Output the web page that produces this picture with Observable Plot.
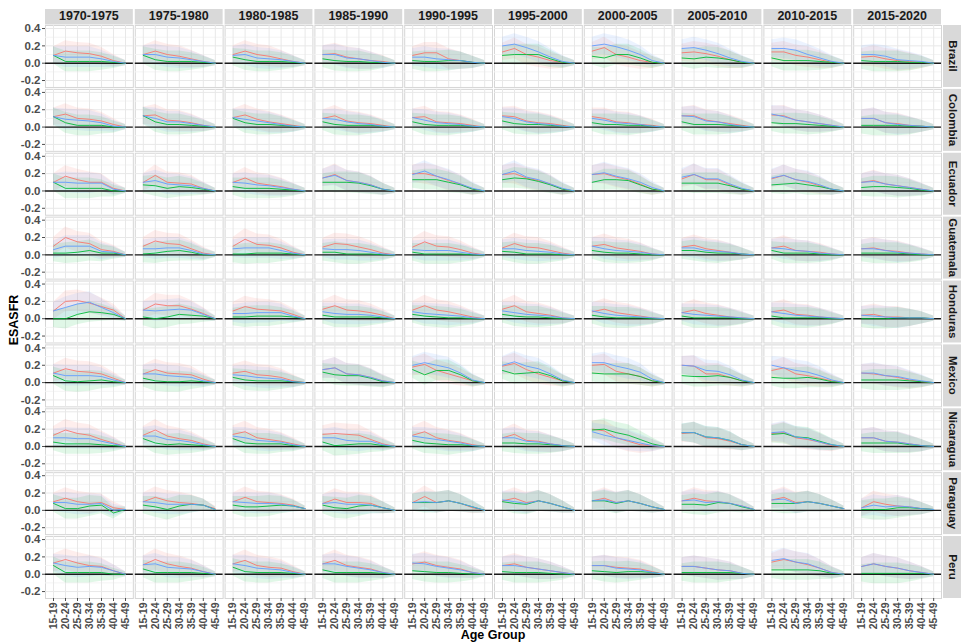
<!DOCTYPE html>
<html><head><meta charset="utf-8">
<script src="https://cdn.jsdelivr.net/npm/d3@7"></script>
<script src="https://cdn.jsdelivr.net/npm/@observablehq/plot@0.6"></script>
<style>body{margin:0;background:#fff} svg{display:block}</style>
</head><body><div id="chart"></div>
<script>
const ages = ["15-19","20-24","25-29","30-34","35-39","40-44","45-49"];
const periods = ["1970-1975","1975-1980","1980-1985","1985-1990","1990-1995","1995-2000","2000-2005","2005-2010","2010-2015","2015-2020"];
const countries = ["Brazil","Colombia","Ecuador","Guatemala","Honduras","Mexico","Nicaragua","Paraguay","Peru"];
const seriesNames = ["Series A","Series B","Series C"];
const bandHalfWidth = [0.10,0.12,0.12,0.12,0.10,0.07,0.03];

// Series A (red): [country][period][age]
const seriesA = [
 [[0.09,0.14,0.12,0.11,0.08,0.03,0.00],[0.10,0.14,0.10,0.08,0.05,0.02,0.00],[0.10,0.14,0.10,0.08,0.05,0.02,0.00],[0.10,0.11,0.07,0.05,0.03,0.02,0.00],[0.09,0.12,0.12,0.05,0.03,0.01,0.00],[0.13,0.17,0.10,0.07,0.03,0.01,0.00],[0.14,0.18,0.10,0.07,0.03,0.01,0.00],[0.12,0.13,0.11,0.08,0.04,0.01,0.00],[0.13,0.13,0.09,0.07,0.04,0.01,0.00],[0.07,0.08,0.05,0.03,0.02,0.01,0.00]],
 [[0.12,0.15,0.10,0.09,0.07,0.03,0.00],[0.13,0.14,0.08,0.07,0.05,0.02,0.00],[0.11,0.14,0.09,0.06,0.04,0.02,0.00],[0.10,0.13,0.07,0.05,0.04,0.02,0.00],[0.11,0.12,0.06,0.05,0.04,0.02,0.00],[0.13,0.12,0.07,0.05,0.04,0.02,0.00],[0.12,0.10,0.06,0.05,0.03,0.02,0.00],[0.13,0.13,0.08,0.06,0.04,0.02,0.00],[0.14,0.13,0.08,0.06,0.04,0.02,0.00],[0.10,0.10,0.05,0.04,0.02,0.01,0.00]],
 [[0.10,0.17,0.13,0.10,0.10,0.03,0.00],[0.10,0.18,0.10,0.09,0.08,0.03,0.00],[0.10,0.15,0.09,0.07,0.05,0.02,0.00],[0.15,0.19,0.12,0.10,0.07,0.02,0.00],[0.20,0.20,0.17,0.12,0.08,0.02,0.00],[0.19,0.20,0.15,0.12,0.08,0.02,0.00],[0.19,0.20,0.16,0.13,0.08,0.02,0.00],[0.14,0.19,0.13,0.13,0.07,0.02,0.00],[0.14,0.18,0.13,0.10,0.06,0.02,0.00],[0.10,0.12,0.08,0.06,0.04,0.02,0.00]],
 [[0.10,0.20,0.15,0.13,0.06,0.04,0.00],[0.10,0.16,0.13,0.12,0.07,0.02,0.00],[0.10,0.18,0.12,0.11,0.08,0.03,0.00],[0.09,0.13,0.12,0.09,0.06,0.02,0.00],[0.09,0.15,0.10,0.09,0.06,0.02,0.00],[0.08,0.13,0.09,0.08,0.05,0.02,0.00],[0.10,0.12,0.08,0.06,0.04,0.01,0.00],[0.09,0.11,0.07,0.05,0.03,0.01,0.00],[0.08,0.10,0.05,0.04,0.03,0.01,0.00],[0.07,0.08,0.05,0.04,0.02,0.01,0.00]],
 [[0.09,0.20,0.21,0.18,0.14,0.10,0.00],[0.10,0.17,0.15,0.15,0.11,0.06,0.00],[0.09,0.14,0.11,0.10,0.09,0.05,0.00],[0.11,0.15,0.10,0.09,0.07,0.04,0.00],[0.10,0.15,0.10,0.08,0.05,0.02,0.00],[0.11,0.15,0.08,0.06,0.04,0.01,0.00],[0.08,0.11,0.07,0.05,0.03,0.01,0.00],[0.07,0.10,0.06,0.04,0.02,0.01,0.00],[0.08,0.10,0.05,0.04,0.02,0.01,0.00],[0.04,0.05,0.02,0.02,0.01,0.01,0.00]],
 [[0.11,0.16,0.13,0.12,0.10,0.05,0.00],[0.10,0.15,0.11,0.10,0.09,0.04,0.00],[0.11,0.13,0.09,0.08,0.06,0.02,0.00],[0.15,0.17,0.10,0.09,0.06,0.02,0.00],[0.18,0.21,0.14,0.10,0.06,0.02,0.00],[0.19,0.22,0.15,0.10,0.06,0.02,0.00],[0.20,0.21,0.13,0.10,0.07,0.02,0.00],[0.20,0.19,0.10,0.10,0.06,0.02,0.00],[0.14,0.17,0.10,0.08,0.05,0.02,0.00],[0.11,0.10,0.08,0.06,0.03,0.01,0.00]],
 [[0.13,0.19,0.15,0.13,0.08,0.04,0.00],[0.13,0.19,0.12,0.09,0.07,0.03,0.00],[0.14,0.17,0.10,0.08,0.06,0.03,0.00],[0.14,0.15,0.14,0.13,0.08,0.03,0.00],[0.13,0.17,0.10,0.07,0.05,0.02,0.00],[0.10,0.14,0.07,0.06,0.03,0.01,0.00],[0.20,0.18,0.10,0.06,0.02,0.01,0.00],[0.15,0.16,0.10,0.09,0.06,0.02,0.00],[0.15,0.16,0.10,0.08,0.05,0.01,0.00],[0.10,0.10,0.06,0.05,0.03,0.01,0.00]],
 [[0.10,0.14,0.10,0.08,0.09,0.03,0.01],[0.10,0.15,0.11,0.09,0.08,0.06,0.02],[0.10,0.15,0.10,0.09,0.08,0.06,0.02],[0.08,0.13,0.09,0.09,0.08,0.03,0.00],[0.09,0.16,0.09,0.11,0.08,0.03,0.00],[0.11,0.14,0.09,0.11,0.08,0.04,0.00],[0.11,0.14,0.09,0.11,0.08,0.04,0.01],[0.11,0.14,0.11,0.10,0.08,0.05,0.01],[0.12,0.15,0.09,0.10,0.08,0.05,0.02],[0.03,0.10,0.07,0.05,0.04,0.02,0.01]],
 [[0.13,0.17,0.13,0.10,0.09,0.04,0.00],[0.11,0.17,0.12,0.09,0.07,0.03,0.00],[0.12,0.16,0.10,0.08,0.07,0.03,0.00],[0.12,0.16,0.10,0.08,0.06,0.02,0.00],[0.12,0.14,0.10,0.08,0.06,0.02,0.00],[0.10,0.12,0.08,0.06,0.04,0.02,0.00],[0.10,0.10,0.08,0.07,0.06,0.03,0.00],[0.09,0.09,0.07,0.05,0.04,0.01,0.00],[0.14,0.17,0.14,0.11,0.07,0.02,0.00],[0.09,0.12,0.09,0.07,0.04,0.02,0.00]]
];

// Series B (green)
const seriesB = [
 [[0.09,0.02,0.02,0.02,0.02,0.01,0.00],[0.09,0.04,0.02,0.02,0.02,0.01,0.00],[0.07,0.04,0.02,0.02,0.02,0.01,0.00],[0.05,0.03,0.02,0.02,0.01,0.01,0.00],[0.03,0.02,0.02,0.03,0.03,0.01,0.00],[0.09,0.10,0.10,0.10,0.05,0.01,0.00],[0.08,0.06,0.10,0.10,0.06,0.01,0.00],[0.06,0.05,0.07,0.06,0.04,0.01,0.00],[0.06,0.03,0.03,0.03,0.02,0.01,0.00],[0.03,0.02,0.02,0.02,0.01,0.01,0.00]],
 [[0.12,0.05,0.02,0.02,0.02,0.00,0.00],[0.13,0.06,0.03,0.03,0.02,0.01,0.00],[0.10,0.05,0.03,0.03,0.02,0.01,0.00],[0.06,0.03,0.02,0.02,0.02,0.01,0.00],[0.06,0.03,0.02,0.02,0.02,0.01,0.00],[0.07,0.04,0.03,0.03,0.02,0.01,0.00],[0.05,0.03,0.03,0.02,0.02,0.01,0.00],[0.06,0.03,0.03,0.03,0.02,0.01,0.00],[0.05,0.04,0.04,0.03,0.02,0.01,0.00],[0.02,0.02,0.02,0.02,0.01,0.01,0.00]],
 [[0.10,0.03,0.03,0.03,0.03,0.00,0.00],[0.07,0.06,0.03,0.05,0.04,0.02,0.00],[0.05,0.03,0.03,0.03,0.02,0.01,0.00],[0.10,0.10,0.10,0.09,0.06,0.02,0.00],[0.13,0.13,0.13,0.10,0.07,0.02,0.00],[0.13,0.15,0.14,0.11,0.07,0.02,0.00],[0.10,0.13,0.13,0.12,0.07,0.02,0.00],[0.09,0.09,0.09,0.09,0.06,0.02,0.00],[0.07,0.08,0.09,0.07,0.05,0.02,0.00],[0.04,0.05,0.05,0.04,0.03,0.01,0.00]],
 [[0.02,0.02,0.03,0.05,0.02,0.02,0.00],[0.01,0.02,0.04,0.05,0.03,0.00,0.00],[0.01,0.01,0.02,0.02,0.02,0.01,0.00],[0.03,0.03,0.01,0.01,0.01,0.00,0.00],[0.03,0.01,0.01,0.01,0.01,0.00,0.00],[0.04,0.03,0.01,0.01,0.01,0.00,0.00],[0.05,0.03,0.02,0.02,0.01,0.00,0.00],[0.05,0.05,0.03,0.02,0.02,0.01,0.00],[0.05,0.02,0.02,0.02,0.01,0.00,0.00],[0.02,0.02,0.02,0.02,0.01,0.00,0.00]],
 [[0.00,0.00,0.05,0.08,0.07,0.05,0.00],[0.02,0.00,0.02,0.05,0.04,0.03,0.00],[0.02,0.02,0.03,0.03,0.03,0.02,0.00],[0.04,0.02,0.02,0.02,0.02,0.01,0.00],[0.05,0.03,0.02,0.01,0.01,0.00,0.00],[0.05,0.03,0.02,0.02,0.01,0.00,0.00],[0.04,0.02,0.01,0.01,0.01,0.00,0.00],[0.03,0.01,0.01,0.01,0.01,0.00,0.00],[0.03,0.01,0.01,0.01,0.01,0.00,0.00],[0.00,0.00,0.00,0.01,0.01,0.01,0.00]],
 [[0.08,0.02,0.01,0.02,0.03,0.01,0.00],[0.05,0.02,0.01,0.01,0.02,0.01,0.00],[0.06,0.03,0.02,0.02,0.02,0.01,0.00],[0.12,0.09,0.08,0.08,0.05,0.01,0.00],[0.15,0.09,0.14,0.14,0.09,0.02,0.00],[0.14,0.10,0.11,0.12,0.08,0.02,0.00],[0.11,0.10,0.10,0.10,0.07,0.02,0.00],[0.08,0.07,0.07,0.08,0.06,0.02,0.00],[0.06,0.05,0.05,0.06,0.04,0.01,0.00],[0.03,0.03,0.03,0.03,0.02,0.01,0.00]],
 [[0.05,0.03,0.03,0.03,0.02,0.01,0.00],[0.09,0.04,0.02,0.03,0.02,0.01,0.00],[0.09,0.04,0.03,0.03,0.03,0.01,0.00],[0.05,0.01,0.02,0.03,0.03,0.01,0.00],[0.07,0.04,0.03,0.02,0.02,0.01,0.00],[0.04,0.04,0.03,0.03,0.02,0.01,0.00],[0.19,0.20,0.16,0.13,0.08,0.03,0.00],[0.16,0.16,0.11,0.10,0.07,0.02,0.00],[0.14,0.15,0.11,0.10,0.06,0.02,0.00],[0.04,0.04,0.04,0.04,0.02,0.01,0.00]],
 [[0.08,0.02,0.02,0.05,0.06,-0.03,0.01],[0.06,0.04,0.01,0.05,0.07,0.06,0.01],[0.06,0.04,0.04,0.05,0.06,0.05,0.02],[0.06,0.03,0.02,0.05,0.06,0.03,0.00],[0.09,0.09,0.09,0.11,0.08,0.04,0.00],[0.10,0.08,0.07,0.11,0.08,0.04,0.00],[0.11,0.11,0.08,0.11,0.08,0.04,0.01],[0.07,0.07,0.06,0.09,0.08,0.04,0.01],[0.08,0.08,0.08,0.10,0.08,0.05,0.02],[0.01,0.01,0.01,0.03,0.03,0.02,0.01]],
 [[0.10,0.02,0.02,0.02,0.02,0.00,0.00],[0.06,0.02,0.02,0.02,0.02,0.01,0.00],[0.08,0.03,0.02,0.02,0.02,0.01,0.00],[0.05,0.02,0.02,0.02,0.02,0.01,0.00],[0.04,0.03,0.02,0.02,0.01,0.00,0.00],[0.03,0.02,0.02,0.02,0.01,0.00,0.00],[0.04,0.03,0.02,0.03,0.03,0.02,0.00],[0.02,0.02,0.02,0.02,0.02,0.01,0.00],[0.05,0.05,0.05,0.05,0.04,0.01,0.00],[0.01,0.01,0.01,0.01,0.01,0.01,0.00]]
];

// Series C (blue)
const seriesC = [
 [[0.09,0.07,0.07,0.07,0.05,0.02,0.00],[0.10,0.10,0.07,0.06,0.04,0.02,0.00],[0.09,0.10,0.06,0.05,0.04,0.02,0.00],[0.10,0.10,0.06,0.05,0.03,0.01,0.00],[0.07,0.07,0.05,0.04,0.03,0.01,0.00],[0.20,0.22,0.18,0.13,0.07,0.02,0.00],[0.20,0.22,0.19,0.15,0.10,0.03,0.00],[0.17,0.18,0.15,0.11,0.06,0.02,0.00],[0.17,0.17,0.15,0.10,0.06,0.02,0.00],[0.10,0.10,0.08,0.04,0.03,0.02,0.00]],
 [[0.12,0.09,0.08,0.07,0.05,0.01,0.00],[0.13,0.10,0.06,0.06,0.04,0.02,0.00],[0.11,0.09,0.07,0.05,0.03,0.01,0.00],[0.10,0.09,0.06,0.04,0.03,0.01,0.00],[0.11,0.08,0.05,0.04,0.03,0.01,0.00],[0.12,0.10,0.06,0.04,0.03,0.01,0.00],[0.10,0.08,0.05,0.04,0.03,0.01,0.00],[0.13,0.12,0.07,0.06,0.03,0.01,0.00],[0.15,0.12,0.08,0.06,0.04,0.02,0.00],[0.10,0.10,0.05,0.03,0.02,0.01,0.00]],
 [[0.10,0.10,0.09,0.09,0.09,0.02,0.00],[0.10,0.12,0.08,0.07,0.06,0.03,0.00],[0.10,0.09,0.07,0.06,0.04,0.02,0.00],[0.15,0.18,0.12,0.10,0.07,0.02,0.00],[0.19,0.23,0.17,0.13,0.08,0.03,0.00],[0.19,0.23,0.16,0.13,0.08,0.03,0.00],[0.19,0.21,0.17,0.14,0.10,0.04,0.00],[0.16,0.19,0.14,0.14,0.08,0.03,0.00],[0.15,0.18,0.13,0.11,0.07,0.02,0.00],[0.10,0.11,0.08,0.06,0.04,0.02,0.00]],
 [[0.06,0.10,0.10,0.10,0.04,0.03,0.00],[0.07,0.07,0.08,0.08,0.05,0.01,0.00],[0.07,0.08,0.08,0.08,0.05,0.02,0.00],[0.07,0.06,0.06,0.05,0.03,0.01,0.00],[0.06,0.05,0.05,0.05,0.03,0.01,0.00],[0.07,0.07,0.05,0.04,0.03,0.01,0.00],[0.10,0.07,0.05,0.04,0.03,0.01,0.00],[0.08,0.08,0.05,0.04,0.03,0.01,0.00],[0.08,0.07,0.05,0.04,0.02,0.01,0.00],[0.07,0.07,0.05,0.03,0.02,0.01,0.00]],
 [[0.09,0.13,0.17,0.19,0.13,0.07,0.00],[0.10,0.09,0.10,0.11,0.10,0.05,0.00],[0.06,0.06,0.07,0.07,0.07,0.03,0.00],[0.08,0.06,0.05,0.05,0.04,0.02,0.00],[0.08,0.06,0.05,0.04,0.03,0.01,0.00],[0.09,0.07,0.05,0.04,0.03,0.01,0.00],[0.09,0.06,0.04,0.03,0.02,0.01,0.00],[0.07,0.05,0.04,0.03,0.02,0.01,0.00],[0.08,0.06,0.04,0.03,0.02,0.01,0.00],[0.04,0.03,0.02,0.01,0.01,0.01,0.00]],
 [[0.11,0.08,0.08,0.08,0.07,0.03,0.00],[0.10,0.10,0.08,0.07,0.06,0.02,0.00],[0.09,0.08,0.06,0.05,0.04,0.01,0.00],[0.15,0.17,0.10,0.09,0.06,0.02,0.00],[0.20,0.23,0.20,0.17,0.11,0.03,0.00],[0.20,0.24,0.19,0.16,0.10,0.03,0.00],[0.23,0.23,0.19,0.16,0.12,0.04,0.00],[0.20,0.19,0.14,0.13,0.09,0.03,0.00],[0.20,0.17,0.14,0.12,0.08,0.03,0.00],[0.11,0.11,0.08,0.07,0.04,0.02,0.00]],
 [[0.10,0.10,0.09,0.09,0.06,0.03,0.00],[0.12,0.12,0.08,0.07,0.05,0.02,0.00],[0.12,0.10,0.07,0.06,0.05,0.02,0.00],[0.10,0.10,0.07,0.06,0.06,0.02,0.00],[0.12,0.10,0.08,0.06,0.04,0.01,0.00],[0.10,0.10,0.06,0.05,0.03,0.01,0.00],[0.17,0.13,0.10,0.07,0.04,0.01,0.00],[0.16,0.16,0.11,0.10,0.07,0.02,0.00],[0.16,0.17,0.11,0.09,0.05,0.02,0.00],[0.10,0.10,0.06,0.05,0.03,0.01,0.00]],
 [[0.09,0.09,0.07,0.07,0.08,0.00,0.01],[0.10,0.09,0.07,0.07,0.07,0.06,0.01],[0.10,0.09,0.08,0.08,0.07,0.05,0.02],[0.08,0.09,0.07,0.07,0.06,0.03,0.00],[0.09,0.10,0.09,0.11,0.08,0.04,0.00],[0.12,0.10,0.08,0.11,0.08,0.04,0.00],[0.11,0.12,0.09,0.11,0.08,0.04,0.01],[0.11,0.12,0.09,0.10,0.08,0.05,0.01],[0.12,0.13,0.08,0.10,0.08,0.05,0.02],[0.03,0.06,0.04,0.05,0.04,0.02,0.01]],
 [[0.13,0.10,0.08,0.09,0.08,0.04,0.00],[0.11,0.12,0.08,0.07,0.06,0.03,0.00],[0.12,0.10,0.07,0.06,0.05,0.02,0.00],[0.12,0.12,0.09,0.07,0.05,0.02,0.00],[0.13,0.12,0.09,0.07,0.05,0.02,0.00],[0.10,0.10,0.08,0.06,0.04,0.02,0.00],[0.10,0.10,0.07,0.06,0.05,0.02,0.00],[0.09,0.09,0.07,0.05,0.04,0.01,0.00],[0.16,0.18,0.14,0.12,0.07,0.02,0.00],[0.09,0.12,0.09,0.07,0.04,0.02,0.00]]
];

const seriesValues = [seriesA, seriesB, seriesC];
const seriesColors = ["#F8766D", "#00BA38", "#619CFF"];

const rows = [];
countries.forEach((c, ci) => periods.forEach((p, pi) => seriesNames.forEach((s, si) => {
  const vals = seriesValues[si][ci][pi];
  ages.forEach((a, ai) => rows.push({
    country: c, period: p, series: s, age: a, value: vals[ai],
    lo: vals[ai] - bandHalfWidth[ai], hi: vals[ai] + bandHalfWidth[ai]
  }));
})));

const W = 961, H = 643, mTop = 25, mBottom = 45, mLeft = 45, mRight = 20;
const font = "'Liberation Sans', Arial, Helvetica, sans-serif";
const plot = Plot.plot({
  width: W, height: H,
  marginTop: mTop, marginBottom: mBottom, marginLeft: mLeft, marginRight: mRight,
  facet: {marginTop: 0, marginRight: 0, marginBottom: 0, marginLeft: 0},
  style: {fontFamily: font, fontSize: "11.5px", fontWeight: "bold", background: "#fff", color: "#4d4d4d"},
  fx: {domain: periods, range: [mLeft, W - mRight], paddingInner: 0.022, paddingOuter: 0, round: false, axis: null},
  fy: {domain: countries, range: [mTop, H - mBottom], paddingInner: 0.03, paddingOuter: 0, round: false, axis: null},
  x: {type: "point", domain: ages, padding: 0.6},
  y: {domain: [-0.28, 0.435]},
  color: {domain: seriesNames, range: seriesColors},
  marks: [
    Plot.frame({fill: "#fff", stroke: "#d6d6d6"}),
    Plot.gridY([-0.1, 0.1, 0.3], {stroke: "#f4f4f4", strokeOpacity: 1}),
    Plot.gridY([-0.2, 0, 0.2, 0.4], {stroke: "#e8e8e8", strokeOpacity: 1}),
    Plot.gridX(ages, {stroke: "#e8e8e8", strokeOpacity: 1}),
    Plot.areaY(rows, {x: "age", y1: "lo", y2: "hi", z: "series", fill: "series", fillOpacity: 0.12, fx: "period", fy: "country"}),
    Plot.ruleY([0], {stroke: "#1a1a1a", strokeWidth: 1.4}),
    Plot.line(rows, {x: "age", y: "value", z: "series", stroke: "series", strokeWidth: 0.9, fx: "period", fy: "country"}),
    Plot.axisY({ticks: [-0.2, 0, 0.2, 0.4], tickFormat: d => d.toFixed(1), tickSize: 3, tickPadding: 2, label: null, color: "#4d4d4d", stroke: "#4d4d4d", fontSize: 11.5}),
    Plot.axisX({tickRotate: -90, tickSize: 3, tickPadding: 1, label: null, color: "#4d4d4d", stroke: "#4d4d4d", fontSize: 10.5})
  ]
});

document.getElementById("chart").appendChild(plot);

// Facet strips (ggplot-style) positioned from Plot's facet scales
const svg = d3.select(plot);
const fxS = plot.scale("fx"), fyS = plot.scale("fy");
const strips = svg.append("g");
periods.forEach(p => {
  const x0 = fxS.apply(p), w = fxS.bandwidth;
  strips.append("rect").attr("x", x0).attr("y", 9).attr("width", w).attr("height", 15.5).attr("fill", "#d9d9d9");
  strips.append("text").attr("x", x0 + w / 2).attr("y", 17).attr("text-anchor", "middle").attr("dominant-baseline", "middle")
    .attr("font-family", font).attr("font-weight", "bold").attr("font-size", 12.5).attr("fill", "#1a1a1a").text(p);
});
countries.forEach(c => {
  const y0 = fyS.apply(c), h = fyS.bandwidth;
  const x0 = W - 18;
  strips.append("rect").attr("x", x0).attr("y", y0).attr("width", 18).attr("height", h).attr("fill", "#d9d9d9");
  strips.append("text").attr("transform", `translate(${x0 + 9},${y0 + h / 2}) rotate(90)`)
    .attr("text-anchor", "middle").attr("dominant-baseline", "middle")
    .attr("font-family", font).attr("font-weight", "bold").attr("font-size", 11.5).attr("fill", "#1a1a1a").text(c);
});
svg.append("text").attr("transform", "translate(15,320) rotate(-90)").attr("text-anchor", "middle").attr("dominant-baseline", "middle")
  .attr("font-family", font).attr("font-weight", "bold").attr("font-size", 12.5).attr("fill", "#000").text("ESASFR");
svg.append("text").attr("x", 493).attr("y", 636).attr("text-anchor", "middle").attr("dominant-baseline", "middle")
  .attr("font-family", font).attr("font-weight", "bold").attr("font-size", 12.5).attr("fill", "#000").text("Age Group");
</script>
</body></html>
